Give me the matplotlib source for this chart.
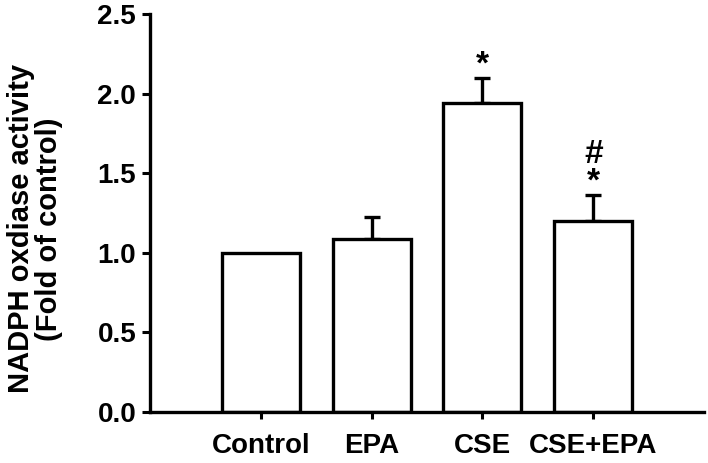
import matplotlib
matplotlib.use("Agg")
import matplotlib.pyplot as plt
import numpy as np

groups = ["Control", "EPA", "CSE", "CSE+EPA"]
fold = [1.0, 1.086, 1.938, 1.2]
sem = [0.0, 0.14, 0.162, 0.165]
marks = ["", "", "*", "#\n*"]

plt.rcParams["font.family"] = ["Liberation Sans", "DejaVu Sans"]
plt.rcParams["font.weight"] = "bold"

fig = plt.figure(figsize=(7.08, 4.63), dpi=100)
ax = fig.add_axes([0.2119, 0.1102, 0.7825, 0.8596])

x = np.arange(len(groups))
ax.bar(x, fold, width=0.705, color="white", edgecolor="black", linewidth=2.4, zorder=2)
err_x = [i for i in x if sem[i] > 0]
ax.errorbar(err_x, [fold[i] for i in err_x], yerr=[[0] * len(err_x), [sem[i] for i in err_x]],
            fmt="none", ecolor="black", elinewidth=2.4, capsize=6, capthick=2.4, zorder=1)

for i, m in enumerate(marks):
    if m:
        ax.text(i, fold[i] + sem[i] - 0.02, m, ha="center", va="bottom",
                fontsize=24, fontweight="bold", linespacing=0.85)

ax.set_xlim(-1, 4)
ax.set_ylim(0, 2.5)
ax.set_yticks(np.arange(0, 2.51, 0.5))
ax.set_yticklabels([f"{v:.1f}" for v in np.arange(0, 2.51, 0.5)])
ax.set_xticks(x)
ax.set_xticklabels(groups)
ax.tick_params(axis="y", direction="out", length=6, width=2.2, labelsize=20, pad=4)
ax.tick_params(axis="x", direction="out", length=5, width=2.2, labelsize=20, pad=10)

for s in ["top", "right"]:
    ax.spines[s].set_visible(False)
for s in ["left", "bottom"]:
    ax.spines[s].set_linewidth(2.4)

ax.set_ylabel("NADPH oxdiase activity\n(Fold of control)", fontsize=21,
              fontweight="bold", linespacing=1.0)
ax.yaxis.set_label_coords(-0.157, 0.46)

fig.savefig("out.png", dpi=100)
